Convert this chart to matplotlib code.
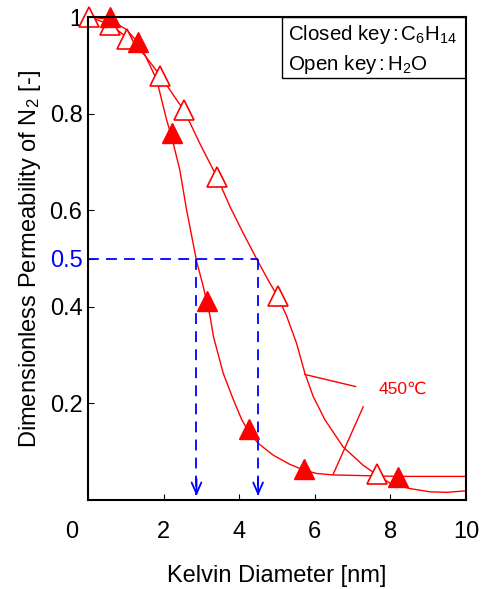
import matplotlib
matplotlib.use("Agg")
import matplotlib.pyplot as plt
import matplotlib.transforms as mtransforms
from matplotlib.patches import Rectangle

plt.rcParams['font.family'] = ['Liberation Sans', 'DejaVu Sans']
plt.rcParams['mathtext.fontset'] = 'custom'
plt.rcParams['mathtext.rm'] = 'Liberation Sans'
plt.rcParams['mathtext.it'] = 'Liberation Sans:italic'

# Marker data
open_x = [0.03, 0.58, 1.03, 1.90, 2.54, 3.41, 5.03, 7.65]
open_y = [1.00, 0.983, 0.954, 0.878, 0.807, 0.669, 0.422, 0.054]
filled_x = [0.58, 1.32, 2.22, 3.15, 4.26, 5.71, 8.20]
filled_y = [1.00, 0.948, 0.760, 0.412, 0.147, 0.064, 0.048]

# Curves
curve_open_x = [0.03, 0.58, 1.03, 1.50, 1.90, 2.35, 2.54, 2.96, 3.41, 3.76, 4.11, 4.51, 4.77, 5.03,
                5.26, 5.52, 5.74, 5.96, 6.27, 6.75, 7.28, 7.65, 7.99, 8.50, 9.05, 9.50, 9.97]
curve_open_y = [1.00, 0.985, 0.958, 0.921, 0.880, 0.828, 0.807, 0.738, 0.669, 0.607, 0.552, 0.492, 0.455, 0.420,
                0.380, 0.324, 0.262, 0.214, 0.166, 0.110, 0.072, 0.052, 0.035, 0.024, 0.017, 0.016, 0.019]
curve_filled_x = [0.05, 0.58, 1.00, 1.32, 1.51, 1.82, 1.95, 2.08, 2.22, 2.43, 2.61, 2.88, 3.05, 3.23,
                  3.32, 3.58, 3.85, 4.07, 4.26, 4.51, 4.90, 5.34, 5.71, 6.05, 6.49, 7.64, 8.20, 10.0]
curve_filled_y = [1.00, 0.995, 0.975, 0.948, 0.921, 0.870, 0.828, 0.787, 0.750, 0.683, 0.600, 0.492, 0.442, 0.380,
                  0.338, 0.262, 0.207, 0.166, 0.140, 0.117, 0.093, 0.074, 0.062, 0.055, 0.052, 0.050, 0.049, 0.049]

xticks = [0, 2, 4, 6, 8, 10]
yticks = [0.2, 0.4, 0.6, 0.8, 1.0]
ytick_labels = ['0.2', '0.4', '0.6', '0.8', '1']
half_level = 0.5
half_x = [2.87, 4.50]
annot_text = '450\u2103'
key_lines = ['Closed key$\\,$:$\\,$C$_6$H$_{14}$', 'Open key$\\,$:$\\,$H$_2$O']

fig = plt.figure(figsize=(4.9, 5.89), dpi=100)
ax = fig.add_axes([0.1796, 0.151, 0.7714, 0.820])
red = '#ff0000'
blue = '#0000ff'

ax.plot(curve_open_x, curve_open_y, color=red, lw=1.0)
ax.plot(curve_filled_x, curve_filled_y, color=red, lw=1.0)
ax.plot(open_x, open_y, ls='none', marker='^', ms=14, mfc='white', mec=red, mew=1.2, clip_on=False, zorder=4)
ax.plot(filled_x, filled_y, ls='none', marker='^', ms=14, mfc=red, mec=red, clip_on=False, zorder=4)

# Dashed guide lines
ax.plot([0, half_x[1]], [half_level, half_level], color=blue, lw=1.3, ls=(0, (6, 4)))
for hx in half_x:
    ax.plot([hx, hx], [half_level, 0.01], color=blue, lw=1.3, ls=(0, (6, 4)))
    ax.annotate('', xy=(hx, 0.003), xytext=(hx, 0.05),
                arrowprops=dict(arrowstyle='->,head_length=0.8,head_width=0.35', color=blue, lw=1.3))

# Annotation
ax.text(8.33, 0.23, annot_text, color=red, fontsize=12.5, ha='center', va='center')
ax.plot([5.74, 7.08], [0.260, 0.235], color=red, lw=1.0)
ax.plot([6.49, 7.28], [0.054, 0.193], color=red, lw=1.0)

# Key box
ax.add_patch(Rectangle((0.513, 0.874), 0.487, 0.126, transform=ax.transAxes,
                       fc='white', ec='black', lw=1.0, zorder=5))
ax.text(0.530, 0.963, key_lines[0], transform=ax.transAxes, fontsize=14.8,
        ha='left', va='center', zorder=6)
ax.text(0.530, 0.901, key_lines[1], transform=ax.transAxes, fontsize=14.8,
        ha='left', va='center', zorder=6)

ax.set_xlim(0, 10)
ax.set_ylim(0, 1)
ax.set_xticks(xticks)
ax.set_xticklabels([str(v) for v in xticks])
ax.set_yticks(yticks + [half_level])
ax.set_yticklabels(ytick_labels + ['0.5'])
ax.get_yticklabels()[-1].set_color(blue)
ax.tick_params(axis='x', direction='in', length=4, pad=15, labelsize=17)
ax.tick_params(axis='y', direction='in', length=4, pad=4, labelsize=17)
for sp in ax.spines.values():
    sp.set_linewidth(1.5)
    sp.set_zorder(7)

# shift "0" label left
lab0 = ax.get_xticklabels()[0]
lab0.set_transform(lab0.get_transform() + mtransforms.ScaledTranslation(-16/100, 0, fig.dpi_scale_trans))

ax.set_xlabel('Kelvin Diameter [nm]', fontsize=17, labelpad=16)
ax.set_ylabel('Dimensionless Permeability of N$_2$ [-]', fontsize=17, labelpad=5)

fig.savefig('out.png', dpi=100)
